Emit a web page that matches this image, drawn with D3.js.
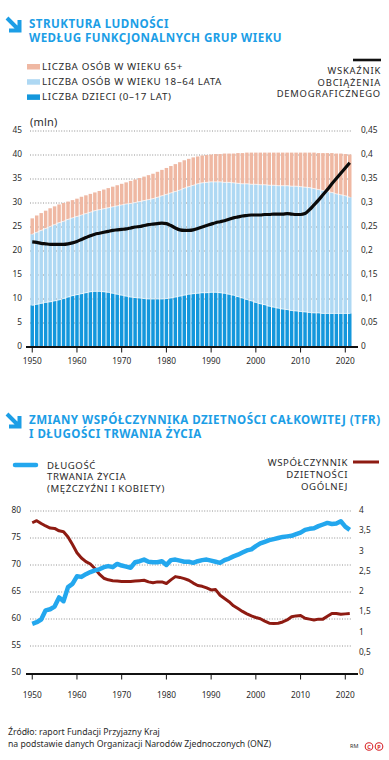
<!DOCTYPE html>
<html>
<head>
<meta charset="utf-8">
<script src="https://cdn.jsdelivr.net/npm/d3@7"></script>
<style>
body{margin:0;background:#fff}
svg{display:block;font-family:"Noto Sans",sans-serif}
</style>
</head>
<body>
<svg></svg>
<script>
var firstYear = 1950
// populacja w mln
var children = [8.7,8.9,9.1,9.3,9.4,9.6,9.8,10.1,10.4,10.7,10.9,11.1,11.3,11.5,11.6,11.6,11.5,11.4,11.2,11.0,
  10.8,10.6,10.4,10.3,10.2,10.1,10.0,10.0,10.0,10.0,10.1,10.2,10.4,10.6,10.8,11.0,11.1,11.2,11.3,11.3,
  11.4,11.4,11.3,11.2,11.0,10.8,10.5,10.2,9.9,9.6,9.3,9.0,8.8,8.5,8.3,8.1,7.9,7.8,7.6,7.5,
  7.4,7.3,7.2,7.1,7.1,7.0,7.0,7.0,7.0,7.0,7.0,7.0]
var workTop = [23.5,23.9,24.3,24.7,25.1,25.5,25.9,26.2,26.6,26.9,27.2,27.5,27.8,28.1,28.4,28.6,28.8,29.0,29.2,29.4,
  29.6,29.8,29.9,30.1,30.3,30.5,30.7,30.9,31.2,31.5,31.8,32.1,32.4,32.7,33.1,33.4,33.7,34.0,34.2,34.3,
  34.4,34.4,34.4,34.3,34.3,34.2,34.1,34.0,34.0,33.9,33.9,33.8,33.8,33.7,33.7,33.6,33.6,33.6,33.5,33.5,
  33.4,33.3,33.2,33.0,32.8,32.6,32.4,32.2,31.9,31.7,31.5,31.2]
var total = [26.8,27.4,27.9,28.4,28.9,29.3,29.7,30.0,30.3,30.6,30.9,31.3,31.6,31.9,32.2,32.5,32.8,33.1,33.4,33.7,
  34.0,34.3,34.6,34.9,35.2,35.5,35.8,36.1,36.5,36.9,37.3,37.7,38.1,38.5,38.9,39.2,39.5,39.7,39.9,40.0,
  40.1,40.2,40.2,40.3,40.3,40.3,40.4,40.4,40.5,40.5,40.5,40.5,40.5,40.5,40.5,40.5,40.5,40.5,40.5,40.5,
  40.5,40.5,40.5,40.5,40.4,40.4,40.4,40.4,40.3,40.3,40.2,40.1]
var ratio = [.219,.218,.216,.215,.214,.214,.214,.214,.215,.217,.220,.224,.228,.232,.235,.237,.239,.241,.243,.244,
  .245,.246,.248,.250,.251,.253,.255,.256,.257,.258,.257,.253,.248,.244,.243,.243,.244,.247,.250,.253,
  .256,.259,.261,.263,.266,.269,.271,.273,.274,.275,.275,.275,.276,.276,.277,.277,.277,.278,.277,.276,
  .276,.278,.286,.296,.306,.317,.328,.340,.351,.362,.373,.384]
var lifeExp = [59.1,59.4,59.9,61.6,61.8,62.3,64.0,63.3,65.9,66.5,67.9,67.8,68.3,68.7,69.0,69.2,69.6,69.8,69.6,70.2,
  69.9,69.7,69.5,70.5,70.7,71.0,70.6,70.5,70.5,70.7,70.0,70.9,71.0,70.8,70.6,70.6,70.4,70.7,70.9,71.0,
  70.8,70.6,70.4,70.9,71.2,71.6,71.9,72.3,72.7,72.9,73.5,74.0,74.3,74.6,74.8,75.0,75.2,75.3,75.4,75.7,
  76.0,76.5,76.7,76.8,77.2,77.5,77.8,77.6,77.7,78.1,77.1,76.5]
var tfr = [3.71,3.76,3.69,3.63,3.58,3.57,3.51,3.49,3.36,3.17,2.97,2.84,2.75,2.69,2.58,2.44,2.34,2.30,2.28,2.27,
  2.26,2.26,2.26,2.27,2.28,2.29,2.25,2.23,2.25,2.25,2.21,2.30,2.38,2.36,2.33,2.29,2.22,2.16,2.14,2.10,
  2.05,2.06,1.92,1.84,1.76,1.66,1.59,1.52,1.46,1.41,1.37,1.34,1.28,1.23,1.22,1.23,1.26,1.31,1.39,1.41,
  1.42,1.35,1.33,1.31,1.33,1.33,1.40,1.47,1.47,1.45,1.46,1.47]
var decadeTicks = [1950,1960,1970,1980,1990,2000,2010,2020]
var popTicks = [0,5,10,15,20,25,30,35,40,45]
var ratioTicks = [0,0.05,0.1,0.15,0.2,0.25,0.3,0.35,0.4,0.45]
var lifeTicks = [50,55,60,65,70,75,80]
var tfrTicks = [0,0.5,1,1.5,2,2.5,3,3.5,4]
var legend1 = ["LICZBA OSÓB W WIEKU 65+","LICZBA OSÓB W WIEKU 18–64 LATA","LICZBA DZIECI (0–17 LAT)"]

var colors = {kids:"#1497dc", work:"#aed8f3", old:"#efb8a3", title:"#1c9ee6", life:"#23a7ee", tfr:"#8e1b12"}
var years = children.map((d,i) => firstYear + i)
var table = years.map((y,i) => ({year:y, kids:children[i], work:workTop[i]-children[i], old:total[i]-workTop[i]}))
var comma = v => d3.format("~g")(v).replace(".", ",")

const svg = d3.select("svg").attr("width",389).attr("height",760)

function arrowIcon(x, y){
	svg.append("path")
		.attr("d", `M${x},${y} L${x+11},${y+11} M${x+12.5},${y+2} L${x+12.5},${y+12.5} L${x+2},${y+12.5}`)
		.attr("fill","none").attr("stroke",colors.title).attr("stroke-width",4)
}
function title(lines, y){
	svg.append("g").selectAll("text").data(lines).join("text")
		.attr("x",29).attr("y",(d,i) => y + i*13.5)
		.attr("fill",colors.title).attr("font-weight",700).attr("font-size",11.6)
		.attr("letter-spacing",0.45)
		.text(d => d)
}
function label(x, y, txt, anchor, size, spacing){
	return svg.append("text").attr("x",x).attr("y",y).attr("text-anchor",anchor||"start")
		.attr("dominant-baseline","middle").attr("font-size",size||9.8).attr("fill","#2b2b2b")
		.attr("letter-spacing",spacing==null ? 0.6 : spacing).text(txt)
}

// ---------- wykres 1 ----------
arrowIcon(7,18)
title(["STRUKTURA LUDNOŚCI","WEDŁUG FUNKCJONALNYCH GRUP WIEKU"], 28)

var swatch = [colors.old, colors.work, colors.kids]
legend1.forEach((t,i) => {
	svg.append("rect").attr("x",27).attr("y",64 + i*15.2).attr("width",13).attr("height",5.5).attr("fill",swatch[i])
	label(42, 67 + i*15.2, t)
})
svg.append("line").attr("x1",353).attr("x2",381).attr("y1",60).attr("y2",60).attr("stroke","#111").attr("stroke-width",2.6)
;["WSKAŹNIK","OBCIĄŻENIA","DEMOGRAFICZNEGO"].forEach((t,i) => label(381, 71.5 + i*11.6, t, "end", 9.4, 0.8))

var x = d3.scaleBand().domain(years).range([30,352]).paddingInner(0.22).paddingOuter(0.11)
var y1 = d3.scaleLinear().domain([0,45]).range([347,131])
var yr = d3.scaleLinear().domain([0,0.45]).range([347,131])
var xc = d => x(d) + x.bandwidth()/2

label(30, 123, "(mln)", "start", 11, 0.2)

svg.append("g").selectAll("line").data(popTicks.slice(1)).join("line")
	.attr("x1",30).attr("x2",352).attr("y1",d => y1(d)).attr("y2",d => y1(d))
	.attr("stroke","#777").attr("stroke-width",0.8).attr("stroke-dasharray","1,1.6")

var stack = d3.stack().keys(["kids","work","old"])(table)
var fills = [colors.kids, colors.work, colors.old]
svg.append("g").selectAll("g").data(stack).join("g")
	.attr("fill",(d,i) => fills[i])
	.selectAll("rect").data(d => d).join("rect")
	.attr("x",d => x(d.data.year)).attr("width",x.bandwidth())
	.attr("y",d => y1(d[1])).attr("height",d => y1(d[0]) - y1(d[1]))

// cienka jasna linia na granicy warstw
svg.append("g").selectAll("path").data(stack.slice(0,2)).join("path")
	.attr("d", d3.line().x(d => xc(d.data.year)).y(d => y1(d[1])).curve(d3.curveMonotoneX))
	.attr("fill","none").attr("stroke","#fff").attr("stroke-opacity",0.75).attr("stroke-width",0.9)

svg.append("path").datum(ratio)
	.attr("d", d3.line().x((d,i) => xc(years[i])).y(d => yr(d)).curve(d3.curveMonotoneX))
	.attr("fill","none").attr("stroke","#0a0a0a").attr("stroke-width",3.2).attr("stroke-linejoin","round")

svg.append("g").selectAll("text").data(popTicks).join("text")
	.attr("x",22).attr("y",d => y1(d)).attr("text-anchor","end").attr("dominant-baseline","middle")
	.attr("font-size",8.3).attr("fill","#2b2b2b").text(d => d)
svg.append("g").selectAll("text").data(ratioTicks).join("text")
	.attr("x",361).attr("y",d => yr(d)).attr("dominant-baseline","middle")
	.attr("font-size",8.3).attr("fill","#2b2b2b").text(d => comma(d))

function xAxis(yPos, labelY){
	svg.append("line").attr("x1",26).attr("x2",358).attr("y1",yPos).attr("y2",yPos).attr("stroke","#111").attr("stroke-width",2)
	svg.append("g").selectAll("line").data(decadeTicks).join("line")
		.attr("x1",d => xc(d)).attr("x2",d => xc(d)).attr("y1",yPos).attr("y2",yPos+5.5)
		.attr("stroke","#111").attr("stroke-width",1)
	svg.append("g").selectAll("text").data(decadeTicks).join("text")
		.attr("x",d => xc(d)).attr("y",labelY).attr("text-anchor","middle").attr("dominant-baseline","middle")
		.attr("font-size",8.3).attr("fill","#2b2b2b").text(d => d)
}
xAxis(347, 362)

// ---------- wykres 2 ----------
arrowIcon(7,414)
title(["ZMIANY WSPÓŁCZYNNIKA DZIETNOŚCI CAŁKOWITEJ (TFR)","I DŁUGOŚCI TRWANIA ŻYCIA"], 424)

svg.append("line").attr("x1",15).attr("x2",36).attr("y1",465).attr("y2",465)
	.attr("stroke",colors.life).attr("stroke-width",4.5).attr("stroke-linecap","round")
;["DŁUGOŚĆ","TRWANIA ŻYCIA","(MĘŻCZYŹNI I KOBIETY)"].forEach((t,i) => label(47, 466 + i*11.6, t, "start", 9.6))
svg.append("line").attr("x1",353).attr("x2",379).attr("y1",462).attr("y2",462)
	.attr("stroke",colors.tfr).attr("stroke-width",3)
;["WSPÓŁCZYNNIK","DZIETNOŚCI","OGÓLNEJ"].forEach((t,i) => label(348, 463.5 + i*12, t, "end", 9.6))

var yl = d3.scaleLinear().domain([50,80]).range([673,511])
var yt = d3.scaleLinear().domain([0,4]).range([673,511])

svg.append("g").selectAll("line").data(lifeTicks.slice(1)).join("line")
	.attr("x1",30).attr("x2",352).attr("y1",d => yl(d)).attr("y2",d => yl(d))
	.attr("stroke","#777").attr("stroke-width",0.8).attr("stroke-dasharray","1,1.6")

svg.append("path").datum(tfr)
	.attr("d", d3.line().x((d,i) => xc(years[i])).y(d => yt(d)))
	.attr("fill","none").attr("stroke",colors.tfr).attr("stroke-width",3).attr("stroke-linejoin","round")
svg.append("path").datum(lifeExp)
	.attr("d", d3.line().x((d,i) => xc(years[i])).y(d => yl(d)))
	.attr("fill","none").attr("stroke",colors.life).attr("stroke-width",4.5).attr("stroke-linejoin","round")

svg.append("g").selectAll("text").data(lifeTicks).join("text")
	.attr("x",21).attr("y",d => yl(d)).attr("text-anchor","end").attr("dominant-baseline","middle")
	.attr("font-size",8.3).attr("fill","#2b2b2b").text(d => d)
svg.append("g").selectAll("text").data(tfrTicks).join("text")
	.attr("x",359).attr("y",d => yt(d)).attr("dominant-baseline","middle")
	.attr("font-size",8.3).attr("fill","#2b2b2b").text(d => comma(d))

xAxis(674, 696)

// ---------- stopka ----------
label(8, 733, "Źródło: raport Fundacji Przyjazny Kraj", "start", 8.7, 0)
label(8, 744.5, "na podstawie danych Organizacji Narodów Zjednoczonych (ONZ)", "start", 8.7, 0)
label(350, 747, "RM", "start", 5.5, 0)
;[["C",369],["P",379]].forEach(p => {
	svg.append("circle").attr("cx",p[1]).attr("cy",746.5).attr("r",3.8).attr("fill","none").attr("stroke","#d7262b").attr("stroke-width",1.1)
	svg.append("text").attr("x",p[1]).attr("y",747).attr("text-anchor","middle").attr("dominant-baseline","middle")
		.attr("font-size",5.5).attr("font-weight",700).attr("fill","#d7262b").text(p[0])
})
</script>
</body>
</html>
